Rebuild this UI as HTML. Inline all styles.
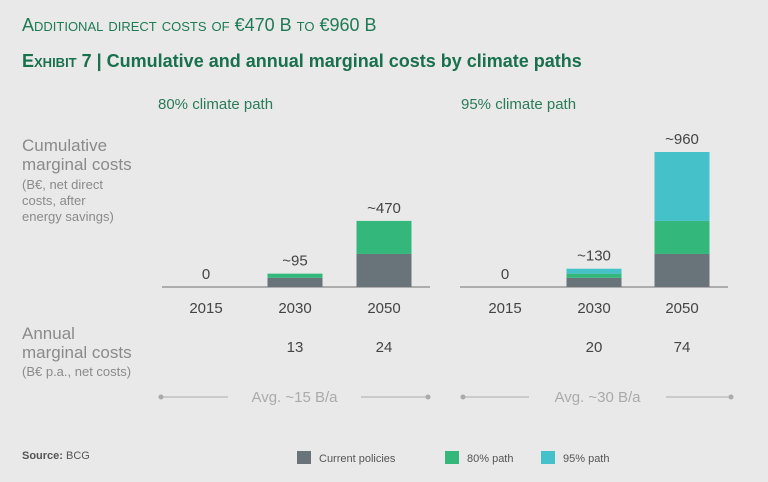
<!DOCTYPE html>
<html><head><meta charset="utf-8"><style>
body{margin:0;background:#e9e9e9;font-family:"Liberation Sans",sans-serif;}
#c{position:relative;width:768px;height:482px;overflow:hidden;background:#e9e9e9}
.t{position:absolute;white-space:nowrap}
</style></head><body>
<div id="c">
<div class="t" style="left:22px;top:15px;font-size:18px;color:#1f7a55;font-variant:small-caps;">Additional direct costs of €470 B to €960 B</div>
<div class="t" style="left:22px;top:51px;font-size:18px;font-weight:bold;color:#19704d"><span style="font-variant:small-caps">Exhibit 7</span> | Cumulative and annual marginal costs by climate paths</div>
<div class="t" style="left:158px;top:96px;font-size:15px;color:#2a7a5a">80% climate path</div>
<div class="t" style="left:461px;top:96px;font-size:15px;color:#2a7a5a">95% climate path</div>
<div class="t" style="left:22px;top:136px;font-size:17px;color:#8a8a8a;line-height:19px">Cumulative<br>marginal costs</div>
<div class="t" style="left:22px;top:177px;font-size:13px;color:#8a8a8a;line-height:16px">(B€, net direct<br>costs, after<br>energy savings)</div>
<div class="t" style="left:22px;top:324px;font-size:17px;color:#8a8a8a;line-height:19px">Annual<br>marginal costs</div>
<div class="t" style="left:22px;top:364px;font-size:13px;color:#8a8a8a">(B€ p.a., net costs)</div>
<div class="t" style="left:22px;top:450px;font-size:11px;color:#555"><b>Source:</b> BCG</div>
<svg id="s" width="768" height="482" style="position:absolute;left:0;top:0"></svg>
</div>
<script>
const years=["2015","2030","2050"];
const cur80=[0,65,235], p80_80=[0,30,235];
const cur95=[0,65,235], p80_95=[0,30,235], p95_95=[0,35,490];
const totals80=["0","~95","~470"], totals95=["0","~130","~960"];
const annual80=["","13","24"], annual95=["","20","74"];
const avg=["Avg. ~15 B/a","Avg. ~30 B/a"];
const C={cur:"#68737a",g:"#34b77b",c:"#45c1c9"};
const svg=document.getElementById('s'),NS="http://www.w3.org/2000/svg";
const base=287,k=135/960;
const y=v=>base-v*k;
function mk(t,a,txt){const e=document.createElementNS(NS,t);for(const q in a)e.setAttribute(q,a[q]);if(txt!==undefined)e.textContent=txt;svg.appendChild(e);return e;}
function panel(x0,x1,centers,series,totals,annual,av,pn,lx){
 let l=mk('line',{x1:x0,x2:x1,y1:base,y2:base,stroke:'#999','stroke-width':1.5});
 
 
 centers.forEach((cx,i)=>{
  let acc=0;
  series.forEach(s=>{const v=s.d[i];if(v>0){const r=mk('rect',{x:cx-27.5,y:y(acc+v),width:55,height:v*k,fill:s.col});
   
   }acc+=v;});
  let t=mk('text',{x:cx,y:y(acc)-8,'text-anchor':'middle','font-size':15,fill:'#444'},totals[i]);
  
  
  let yl=mk('text',{x:cx,y:313,'text-anchor':'middle','font-size':15,fill:'#444'},years[i]);
  
  
  if(annual[i]){let a=mk('text',{x:cx,y:352,'text-anchor':'middle','font-size':15,fill:'#444'},annual[i]);
   
   }
 });
 const ly=397;
 mk('line',{x1:lx[0],x2:lx[1],y1:ly,y2:ly,stroke:'#aaa'});
 mk('line',{x1:lx[2],x2:lx[3],y1:ly,y2:ly,stroke:'#aaa'});
 mk('circle',{cx:lx[0],cy:ly,r:2.5,fill:'#aaa'});
 mk('circle',{cx:lx[3],cy:ly,r:2.5,fill:'#aaa'});
 let at=mk('text',{x:(lx[1]+lx[2])/2,y:ly+5,'text-anchor':'middle','font-size':15,fill:'#aaa'},av);
 
 
}
panel(162,430,[206,295,384],[{n:'current',d:cur80,col:C.cur},{n:'80',d:p80_80,col:C.g}],totals80,annual80,avg[0],'80',[161,228,361,428]);
panel(460,728,[505,594,682],[{n:'current',d:cur95,col:C.cur},{n:'80',d:p80_95,col:C.g},{n:'95',d:p95_95,col:C.c}],totals95,annual95,avg[1],'95',[463,529,666,731]);
const leg=[["Current policies",C.cur,297],["80% path",C.g,445],["95% path",C.c,541]];
leg.forEach(L=>{const r=mk('rect',{x:L[2],y:451,width:14,height:13,fill:L[1]});
 
 
 const t=mk('text',{x:L[2]+22,y:462,'font-size':11,fill:'#555'},L[0]);
 
 });
</script>
</body></html>
